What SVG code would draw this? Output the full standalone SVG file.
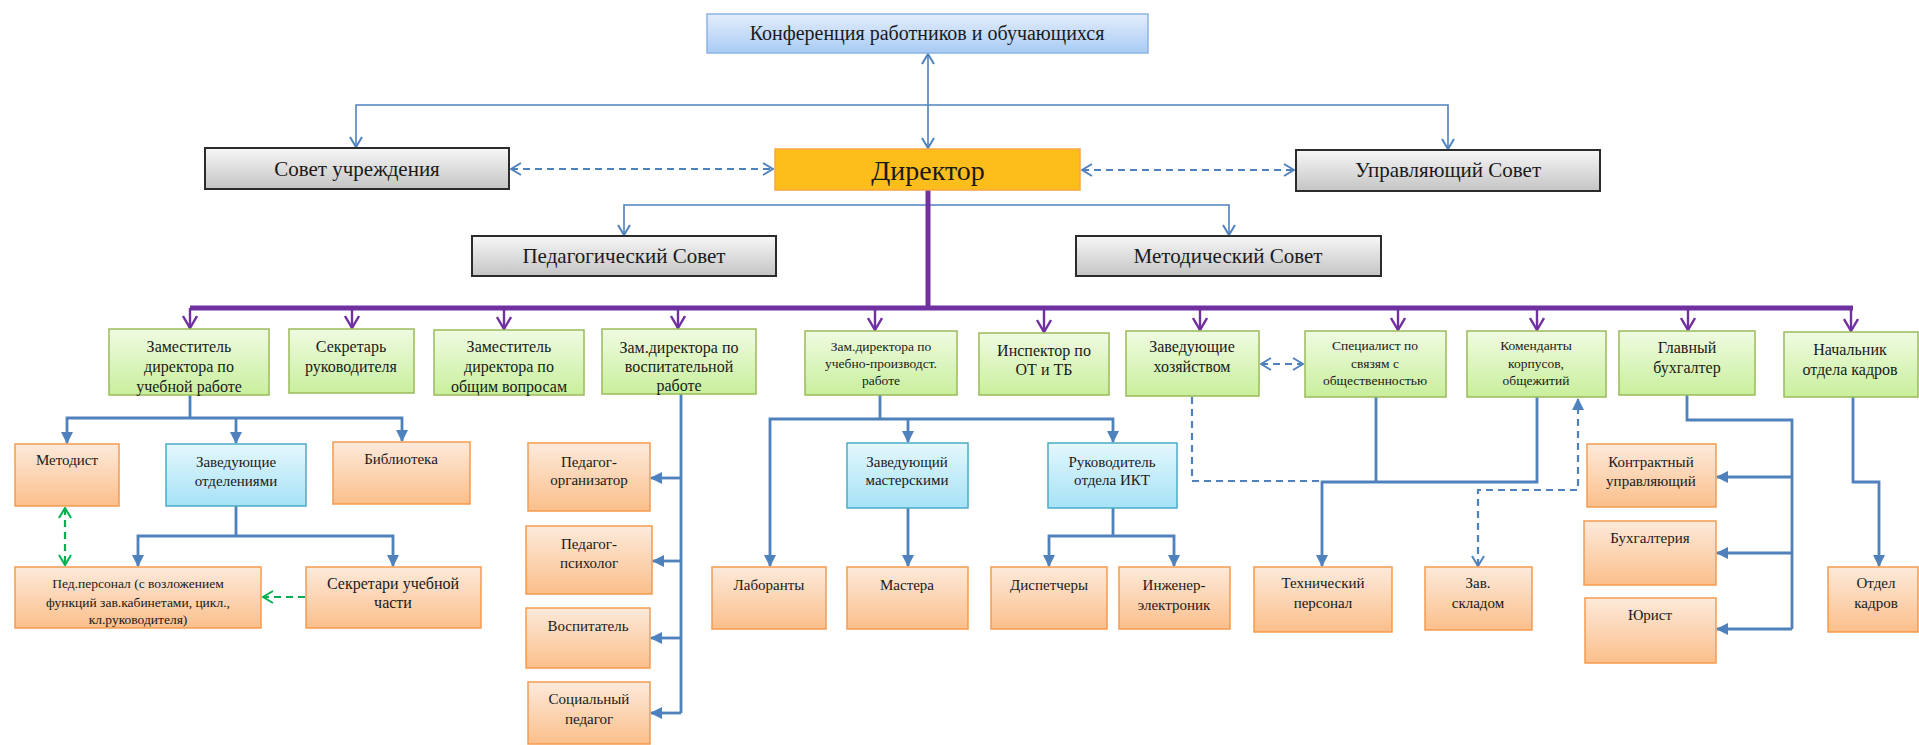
<svg xmlns="http://www.w3.org/2000/svg" width="1919" height="745" viewBox="0 0 1919 745">
<style>
.tx{font-family:"Liberation Serif","Times New Roman",serif;fill:#1a1a1a;text-anchor:middle}
.f27{font-size:28px}.f21{font-size:21px}.f20{font-size:20px}.f16{font-size:16px}.f15{font-size:15px}.f14{font-size:14px}.f13{font-size:13.5px}
.gray{fill:url(#gGray);stroke:#2b2b2b;stroke-width:2}
.grn{fill:url(#gGreen);stroke:#9bbb59;stroke-width:1.5}
.blu{fill:url(#gBlue);stroke:#4bacc6;stroke-width:1.5}
.org{fill:url(#gOrange);stroke:#f59a4f;stroke-width:1.5}
.thin{fill:none;stroke:#4f81bd;stroke-width:1.6}
.thick{fill:none;stroke:#4f81bd;stroke-width:2.8}
.dash{fill:none;stroke:#4f81bd;stroke-width:2.2;stroke-dasharray:7 5}
.gdash{fill:none;stroke:#00b050;stroke-width:2.2;stroke-dasharray:7 5}
.pur{fill:none;stroke:#7030a0;stroke-width:5}
.purb{fill:none;stroke:#7030a0;stroke-width:2.4}
</style>
<defs>
<linearGradient id="gGray" x1="0" y1="0" x2="0" y2="1"><stop offset="0" stop-color="#f7f7f7"/><stop offset="1" stop-color="#c4c4c4"/></linearGradient>
<linearGradient id="gGreen" x1="0" y1="0" x2="0" y2="1"><stop offset="0" stop-color="#f0fbe2"/><stop offset="1" stop-color="#c8ef9c"/></linearGradient>
<linearGradient id="gBlue" x1="0" y1="0" x2="0" y2="1"><stop offset="0" stop-color="#e4f7fd"/><stop offset="1" stop-color="#a6e2f6"/></linearGradient>
<linearGradient id="gOrange" x1="0" y1="0" x2="0" y2="1"><stop offset="0" stop-color="#fdeadb"/><stop offset="1" stop-color="#fbbf8b"/></linearGradient>
<linearGradient id="gConf" x1="0" y1="0" x2="0" y2="1"><stop offset="0" stop-color="#e3edfc"/><stop offset="1" stop-color="#a9cbf4"/></linearGradient>
<marker id="oB" viewBox="0 0 12 14" refX="11" refY="7" markerWidth="12" markerHeight="14" markerUnits="userSpaceOnUse" orient="auto-start-reverse"><path d="M1,1 L11,7 L1,13" fill="none" stroke="#4f81bd" stroke-width="2"/></marker>
<marker id="fB" viewBox="0 0 12 12" refX="11" refY="6" markerWidth="12" markerHeight="12" markerUnits="userSpaceOnUse" orient="auto-start-reverse"><path d="M0,0 L12,6 L0,12 Z" fill="#4f81bd"/></marker>
<marker id="oP" viewBox="0 0 14 16" refX="13" refY="8" markerWidth="14" markerHeight="16" markerUnits="userSpaceOnUse" orient="auto-start-reverse"><path d="M1,1 L13,8 L1,15" fill="none" stroke="#7030a0" stroke-width="2.4"/></marker>
<marker id="oG" viewBox="0 0 12 14" refX="11" refY="7" markerWidth="12" markerHeight="14" markerUnits="userSpaceOnUse" orient="auto-start-reverse"><path d="M1,1 L11,7 L1,13" fill="none" stroke="#00b050" stroke-width="2"/></marker>
</defs>
<rect width="1919" height="745" fill="#ffffff"/>

<g id="connectors">
<!-- top -->
<path class="thin" d="M928,54 V148" marker-start="url(#oB)" marker-end="url(#oB)"/>
<path class="thin" d="M928,105 H356 V147" marker-end="url(#oB)"/>
<path class="thin" d="M928,105 H1448 V149" marker-end="url(#oB)"/>
<path class="dash" d="M511,169 H773" marker-start="url(#oB)" marker-end="url(#oB)"/>
<path class="dash" d="M1082,170 H1294" marker-start="url(#oB)" marker-end="url(#oB)"/>
<path class="thin" d="M624,235 V205 H1229 V235" marker-start="url(#oB)" marker-end="url(#oB)"/>
<!-- purple -->
<path class="pur" d="M928,190 V308"/>
<path class="pur" d="M190,308 H1853"/>
<path class="purb" d="M190,308 V328" marker-end="url(#oP)"/>
<path class="purb" d="M352,308 V328" marker-end="url(#oP)"/>
<path class="purb" d="M504,308 V329" marker-end="url(#oP)"/>
<path class="purb" d="M678,308 V328" marker-end="url(#oP)"/>
<path class="purb" d="M875,308 V330" marker-end="url(#oP)"/>
<path class="purb" d="M1044,308 V332" marker-end="url(#oP)"/>
<path class="purb" d="M1200,308 V330" marker-end="url(#oP)"/>
<path class="purb" d="M1398,308 V330" marker-end="url(#oP)"/>
<path class="purb" d="M1537,308 V330" marker-end="url(#oP)"/>
<path class="purb" d="M1688,308 V330" marker-end="url(#oP)"/>
<path class="purb" d="M1851,306 V331" marker-end="url(#oP)"/>
<!-- zam uch -->
<path class="thick" d="M190,395 V418"/>
<path class="thick" d="M190,418 H67 V443" marker-end="url(#fB)"/>
<path class="thick" d="M190,418 H402 V441" marker-end="url(#fB)"/>
<path class="thick" d="M236,418 V443" marker-end="url(#fB)"/>
<path class="thick" d="M236,506 V536"/>
<path class="thick" d="M236,536 H138 V566" marker-end="url(#fB)"/>
<path class="thick" d="M236,536 H393 V566" marker-end="url(#fB)"/>
<path class="gdash" d="M65,508 V565" marker-start="url(#oG)" marker-end="url(#oG)"/>
<path class="gdash" d="M305,597 H263" marker-end="url(#oG)"/>
<!-- zam vosp -->
<path class="thick" d="M681,394 V713"/>
<path class="thick" d="M681,478 H651" marker-end="url(#fB)"/>
<path class="thick" d="M681,561 H653" marker-end="url(#fB)"/>
<path class="thick" d="M681,638 H651" marker-end="url(#fB)"/>
<path class="thick" d="M681,713 H651" marker-end="url(#fB)"/>
<!-- zam proizv -->
<path class="thick" d="M880,395 V419"/>
<path class="thick" d="M880,419 H770 V566" marker-end="url(#fB)"/>
<path class="thick" d="M880,419 H1113 V442" marker-end="url(#fB)"/>
<path class="thick" d="M908,419 V442" marker-end="url(#fB)"/>
<path class="thick" d="M908,508 V566" marker-end="url(#fB)"/>
<path class="thick" d="M1113,508 V536"/>
<path class="thick" d="M1113,536 H1049 V566" marker-end="url(#fB)"/>
<path class="thick" d="M1113,536 H1174 V566" marker-end="url(#fB)"/>
<!-- zavhoz / specialist / komendanty -->
<path class="dash" d="M1192,397 V481 H1320"/>
<path class="dash" d="M1261,364 H1303" marker-start="url(#oB)" marker-end="url(#oB)"/>
<path class="thick" d="M1376,397 V482"/>
<path class="thick" d="M1537,397 V482 H1322 V566" marker-end="url(#fB)"/>
<path class="dash" d="M1478,566 V490 H1578 V399" marker-start="url(#oB)" marker-end="url(#fB)"/>
<!-- gl buh -->
<path class="thick" d="M1687,395 V420 H1792 V629"/>
<path class="thick" d="M1792,477 H1717" marker-end="url(#fB)"/>
<path class="thick" d="M1792,553 H1717" marker-end="url(#fB)"/>
<path class="thick" d="M1792,629 H1717" marker-end="url(#fB)"/>
<!-- kadry -->
<path class="thick" d="M1853,397 V482 H1879 V566" marker-end="url(#fB)"/>
</g>

<g id="n-conf"><rect x="707" y="14" width="441" height="39" fill="url(#gConf)" stroke="#8db3e2" stroke-width="1.5"/><text class="tx f20" x="927" y="40">Конференция работников и обучающихся</text></g>
<g id="n-sovet-uchr"><rect class="gray" x="205" y="148" width="304" height="41"/><text class="tx f21" x="357" y="176">Совет учреждения</text></g>
<g id="n-director"><rect x="775" y="149" width="305" height="41" fill="#fdbd1b" stroke="#f8a640" stroke-width="1.5"/><text class="tx f27" x="928" y="180">Директор</text></g>
<g id="n-upr-sovet"><rect class="gray" x="1296" y="150" width="304" height="41"/><text class="tx f21" x="1448" y="177">Управляющий Совет</text></g>
<g id="n-ped-sovet"><rect class="gray" x="472" y="236" width="304" height="40"/><text class="tx f21" x="624" y="263">Педагогический Совет</text></g>
<g id="n-met-sovet"><rect class="gray" x="1076" y="236" width="305" height="40"/><text class="tx f21" x="1228" y="263">Методический Совет</text></g>

<g id="n-zam-uch"><rect class="grn" x="109" y="329" width="160" height="66"/><text class="tx f16" x="189" y="352">Заместитель</text><text class="tx f16" x="189" y="372">директора по</text><text class="tx f16" x="189" y="392">учебной работе</text></g>
<g id="n-sekr-ruk"><rect class="grn" x="289" y="329" width="125" height="64"/><text class="tx f16" x="351" y="352">Секретарь</text><text class="tx f16" x="351" y="372">руководителя</text></g>
<g id="n-zam-obsh"><rect class="grn" x="434" y="330" width="150" height="65"/><text class="tx f16" x="509" y="352">Заместитель</text><text class="tx f16" x="509" y="372">директора по</text><text class="tx f16" x="509" y="392">общим вопросам</text></g>
<g id="n-zam-vosp"><rect class="grn" x="602" y="329" width="154" height="65"/><text class="tx f16" x="679" y="353">Зам.директора по</text><text class="tx f16" x="679" y="372">воспитательной</text><text class="tx f16" x="679" y="391">работе</text></g>
<g id="n-zam-proizv"><rect class="grn" x="805" y="331" width="152" height="64"/><text class="tx f13" x="881" y="351">Зам.директора по</text><text class="tx f13" x="881" y="368">учебно-производст.</text><text class="tx f13" x="881" y="385">работе</text></g>
<g id="n-inspektor"><rect class="grn" x="979" y="333" width="130" height="62"/><text class="tx f16" x="1044" y="356">Инспектор по</text><text class="tx f16" x="1044" y="375">ОТ и ТБ</text></g>
<g id="n-zavhoz"><rect class="grn" x="1126" y="331" width="133" height="65"/><text class="tx f16" x="1192" y="352">Заведующие</text><text class="tx f16" x="1192" y="372">хозяйством</text></g>
<g id="n-specialist"><rect class="grn" x="1305" y="331" width="141" height="66"/><text class="tx f13" x="1375" y="350">Специалист по</text><text class="tx f13" x="1375" y="368">связям с</text><text class="tx f13" x="1375" y="385">общественностью</text></g>
<g id="n-komendanty"><rect class="grn" x="1467" y="331" width="139" height="66"/><text class="tx f13" x="1536" y="350">Коменданты</text><text class="tx f13" x="1536" y="368">корпусов,</text><text class="tx f13" x="1536" y="385">общежитий</text></g>
<g id="n-gl-buh"><rect class="grn" x="1619" y="331" width="136" height="64"/><text class="tx f16" x="1687" y="353">Главный</text><text class="tx f16" x="1687" y="373">бухгалтер</text></g>
<g id="n-nach-kadrov"><rect class="grn" x="1784" y="332" width="134" height="65"/><text class="tx f16" x="1850" y="355">Начальник</text><text class="tx f16" x="1850" y="375">отдела кадров</text></g>

<g id="n-metodist"><rect class="org" x="15" y="444" width="104" height="62"/><text class="tx f15" x="67" y="465">Методист</text></g>
<g id="n-zav-otdel"><rect class="blu" x="166" y="444" width="140" height="62"/><text class="tx f15" x="236" y="467">Заведующие</text><text class="tx f15" x="236" y="486">отделениями</text></g>
<g id="n-biblioteka"><rect class="org" x="333" y="442" width="137" height="62"/><text class="tx f15" x="401" y="464">Библиотека</text></g>
<g id="n-ped-org"><rect class="org" x="528" y="443" width="122" height="68"/><text class="tx f15" x="589" y="467">Педагог-</text><text class="tx f15" x="589" y="485">организатор</text></g>
<g id="n-ped-psih"><rect class="org" x="526" y="526" width="126" height="68"/><text class="tx f15" x="589" y="549">Педагог-</text><text class="tx f15" x="589" y="568">психолог</text></g>
<g id="n-vospitatel"><rect class="org" x="526" y="608" width="124" height="60"/><text class="tx f15" x="588" y="631">Воспитатель</text></g>
<g id="n-soc-ped"><rect class="org" x="528" y="682" width="122" height="62"/><text class="tx f15" x="589" y="704">Социальный</text><text class="tx f15" x="589" y="724">педагог</text></g>
<g id="n-ped-personal"><rect class="org" x="15" y="567" width="246" height="61"/><text class="tx f13" x="138" y="588">Пед.персонал (с возложением</text><text class="tx f13" x="138" y="607">функций зав.кабинетами, цикл.,</text><text class="tx f13" x="138" y="624">кл.руководителя)</text></g>
<g id="n-sekr-uch"><rect class="org" x="306" y="567" width="175" height="61"/><text class="tx f16" x="393" y="589">Секретари учебной</text><text class="tx f16" x="393" y="608">части</text></g>
<g id="n-zav-master"><rect class="blu" x="847" y="443" width="121" height="65"/><text class="tx f15" x="907" y="467">Заведующий</text><text class="tx f15" x="907" y="485">мастерскими</text></g>
<g id="n-ruk-ikt"><rect class="blu" x="1048" y="443" width="129" height="65"/><text class="tx f15" x="1112" y="467">Руководитель</text><text class="tx f15" x="1112" y="485">отдела ИКТ</text></g>
<g id="n-laboranty"><rect class="org" x="712" y="567" width="114" height="62"/><text class="tx f15" x="769" y="590">Лаборанты</text></g>
<g id="n-mastera"><rect class="org" x="847" y="567" width="121" height="62"/><text class="tx f15" x="907" y="590">Мастера</text></g>
<g id="n-dispetchery"><rect class="org" x="991" y="567" width="116" height="62"/><text class="tx f15" x="1049" y="590">Диспетчеры</text></g>
<g id="n-inzhener"><rect class="org" x="1119" y="567" width="111" height="62"/><text class="tx f15" x="1174" y="590">Инженер-</text><text class="tx f15" x="1174" y="610">электроник</text></g>
<g id="n-tehn"><rect class="org" x="1254" y="567" width="138" height="65"/><text class="tx f15" x="1323" y="588">Технический</text><text class="tx f15" x="1323" y="608">персонал</text></g>
<g id="n-zav-sklad"><rect class="org" x="1425" y="567" width="107" height="63"/><text class="tx f15" x="1478" y="588">Зав.</text><text class="tx f15" x="1478" y="608">складом</text></g>
<g id="n-kontrakt"><rect class="org" x="1587" y="444" width="129" height="63"/><text class="tx f15" x="1651" y="467">Контрактный</text><text class="tx f15" x="1651" y="486">управляющий</text></g>
<g id="n-buhgalteria"><rect class="org" x="1584" y="521" width="132" height="64"/><text class="tx f15" x="1650" y="543">Бухгалтерия</text></g>
<g id="n-yurist"><rect class="org" x="1585" y="598" width="131" height="65"/><text class="tx f15" x="1650" y="620">Юрист</text></g>
<g id="n-otdel-kadrov"><rect class="org" x="1828" y="567" width="90" height="65"/><text class="tx f15" x="1876" y="588">Отдел</text><text class="tx f15" x="1876" y="608">кадров</text></g>
</svg>
